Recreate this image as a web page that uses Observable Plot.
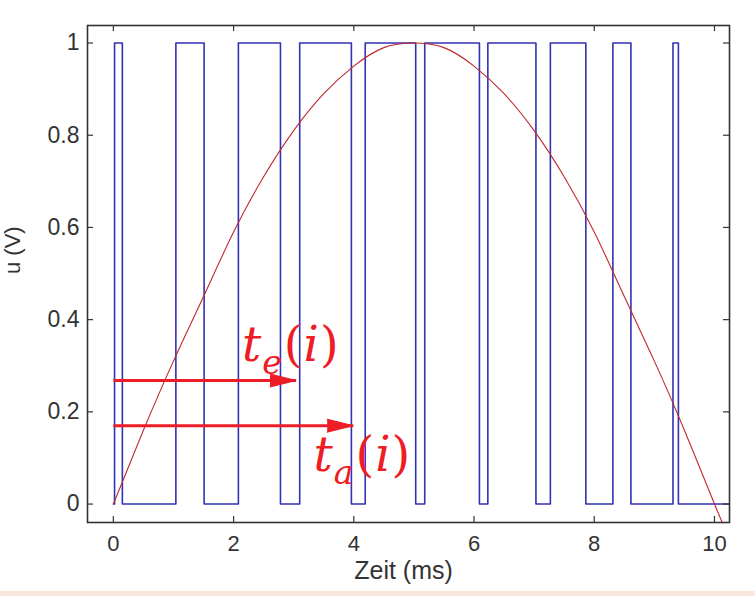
<!DOCTYPE html>
<html><head><meta charset="utf-8">
<script src="https://cdn.jsdelivr.net/npm/d3@7"></script>
<script src="https://cdn.jsdelivr.net/npm/@observablehq/plot@0.6"></script>
<style>
body{margin:0;background:#fff;width:755px;overflow:hidden}
#strip{height:5px;background:#fbe6de}
</style>
</head><body><div id="chart"></div><div id="strip"></div>
<script>
// PWM signal: switching instants (ms) and level after each instant (V)
const pwmTime  = [0, 0.02, 0.15, 1.04, 1.51, 2.08, 2.78, 3.10, 3.96, 4.19, 5.03, 5.18, 6.09, 6.23, 7.03, 7.27, 7.86, 8.31, 8.61, 9.31, 9.40, 10.25];
const pwmLevel = [0, 1,    0,    1,    0,    1,    0,    1,    0,    1,    0,    1,    0,    1,    0,    1,    0,    1,    0,    1,    0,    0];
// reference sine (half wave)
const sineTime  = [0, 0.5, 1, 1.5, 2, 2.5, 3, 3.5, 4, 4.5, 5, 5.5, 6, 6.5, 7, 7.5, 8, 8.5, 9, 9.5, 10, 10.2];
const sineValue = [0, 0.16, 0.31, 0.45, 0.59, 0.71, 0.81, 0.89, 0.95, 0.99, 1.0, 0.99, 0.95, 0.89, 0.81, 0.71, 0.59, 0.45, 0.31, 0.16, 0, -0.06];
// axes
const xTicks = [0, 2, 4, 6, 8, 10];
const yTicks = [0, 0.2, 0.4, 0.6, 0.8, 1];
const yTickLabels = ["0", "0.2", "0.4", "0.6", "0.8", "1"];
const xTitle = "Zeit (ms)";
const yTitle = "u (V)";
// annotations t_e(i), t_a(i)
const arrowSub   = ["e", "a"];
const arrowStart = [0, 0];
const arrowEnd   = [3.04, 3.99];
const arrowLevel = [0.268, 0.17];
const labelX     = [2.14, 3.33];
const labelY     = [0.343, 0.105];

const blue = "#3232b4", darkRed = "#c0282c", red = "#ee1c24";
const W = 755, H = 591, mL = 87, mR = 26, mT = 25, mB = 69;
const fw = W - mL - mR, fh = H - mT - mB, tk = 6;

const chart = Plot.plot({
  width: W, height: H,
  marginLeft: mL, marginRight: mR, marginTop: mT, marginBottom: mB,
  style: {background: "transparent", fontFamily: "Liberation Sans, Arial, sans-serif", color: "#333"},
  x: {domain: [-0.43, 10.25]},
  y: {domain: [-0.04, 1.038]},
  marks: [
    Plot.axisX(xTicks, {tickSize: 0, tickPadding: 13, fontSize: 22, fill: "#333", label: null}),
    Plot.axisY(yTicks, {tickSize: 0, tickPadding: 8, fontSize: 23, fill: "#333", label: null,
      tickFormat: (d, i) => yTickLabels[i]}),
    Plot.line(pwmTime, {x: pwmTime, y: pwmLevel, curve: "step-after", stroke: blue, strokeWidth: 1.6, clip: true}),
    Plot.line(sineTime, {x: sineTime, y: sineValue, curve: "natural", stroke: darkRed, strokeWidth: 1.1, clip: true}),
    Plot.link(arrowSub, {x1: arrowStart, x2: arrowEnd, y1: arrowLevel, y2: arrowLevel, stroke: red, strokeWidth: 3}),
    Plot.vector(arrowSub, {x: arrowEnd, y: arrowLevel, rotate: 90, length: 26, shape: "spike", r: 6.5, anchor: "end", fill: red, stroke: red, strokeWidth: 1}),
    Plot.text(arrowSub, {x: labelX, y: labelY, text: d => "t" + d + "(i)", textAnchor: "start",
      fill: red, fontSize: 48, fontFamily: "DejaVu Serif, serif"}),
    Plot.tickX(xTicks, {x: d => d, insetTop: fh - tk, stroke: "#333", strokeWidth: 1.2}),
    Plot.tickX(xTicks, {x: d => d, insetBottom: fh - tk, stroke: "#333", strokeWidth: 1.2}),
    Plot.tickY(yTicks, {y: d => d, insetRight: fw - tk, stroke: "#333", strokeWidth: 1.2}),
    Plot.tickY(yTicks, {y: d => d, insetLeft: fw - tk, stroke: "#333", strokeWidth: 1.2}),
    Plot.frame({stroke: "#333", strokeWidth: 1.6}),
    Plot.text([xTitle], {frameAnchor: "bottom", dy: 56, dx: -5, text: d => d, fontSize: 25, fill: "#333"}),
    Plot.text([yTitle], {frameAnchor: "left", dx: -75, rotate: -90, text: d => d, fontSize: 22, fill: "#333"})
  ]
});
document.getElementById("chart").appendChild(chart);

// rich formatting for t_e(i), t_a(i)
d3.select(chart).selectAll("text").each(function () {
  const s = this.textContent;
  const m = /^t([ea])\(i\)$/.exec(s);
  if (!m) return;
  const t = d3.select(this);
  t.text(null);
  t.append("tspan").attr("font-style", "italic").text("t");
  t.append("tspan").attr("font-style", "italic").attr("font-size", 33).attr("dy", 13).attr("dx", 1).text(m[1]);
  t.append("tspan").attr("dy", -13).attr("dx", 2).text("(");
  t.append("tspan").attr("font-style", "italic").attr("dx", 1).text("i");
  t.append("tspan").attr("dx", 1).text(")");
});
</script>
</body></html>
